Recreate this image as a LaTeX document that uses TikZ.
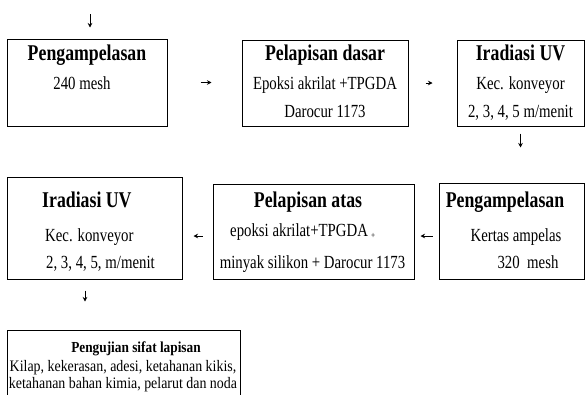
\documentclass[tikz,border=0pt]{standalone}
\usepackage{fontspec}
\setmainfont{Liberation Serif}
\newfontfamily\bodyf{Liberation Serif}[FakeStretch=0.80]
\newfontfamily\titlef{Liberation Serif}[FakeStretch=0.79]
\newfontfamily\smallf{Liberation Serif}[FakeStretch=0.87]
\usetikzlibrary{arrows.meta,calc}
\tikzset{
  box/.style={draw, line width=1pt, rectangle, inner sep=0pt},
  ttl/.style={font=\titlef\bfseries\fontsize{22.5}{24}\selectfont, inner sep=0pt, anchor=base},
  bdy/.style={font=\bodyf\fontsize{18.5}{20}\selectfont, inner sep=0pt, anchor=base},
  sttl/.style={font=\smallf\bfseries\fontsize{15.3}{17}\selectfont, inner sep=0pt, anchor=base},
  sbdy/.style={font=\smallf\fontsize{16}{17}\selectfont, inner sep=0pt, anchor=base},
  arr/.style={line width=0.9pt, -{Stealth[length=4.5pt,width=4.5pt]}}
}
\begin{document}
\begin{tikzpicture}[x=1pt,y=-1pt]
\path[use as bounding box] (0,0) rectangle (588,394);
\clip (0,0) rectangle (588,394);
% boxes
\node[box, minimum width=160pt, minimum height=87pt] (b1) at (87,82.5) {};
\node[box, minimum width=166pt, minimum height=86pt] (b2) at (325,83) {};
\node[box, minimum width=127pt, minimum height=86pt] (b3) at (520.5,83) {};
\node[box, minimum width=175pt, minimum height=102pt] (b4) at (94.5,228) {};
\node[box, minimum width=201pt, minimum height=95pt] (b5) at (313.5,231.5) {};
\node[box, minimum width=145pt, minimum height=96pt] (b6) at (511.5,231) {};
\node[box, minimum width=233pt, minimum height=70pt] (b7) at (123.5,365) {};
% texts
\node[ttl] (t1a) at (87,60) {Pengampelasan};
\node[bdy] (t1b) at (82,89) {240 mesh};
\node[ttl] (t2a) at (325,60) {Pelapisan dasar};
\node[bdy] (t2b) at (325,89) {Epoksi akrilat +TPGDA};
\node[bdy] (t2c) at (325,117) {Darocur 1173};
\node[ttl] (t3a) at (520.5,60) {Iradiasi UV};
\node[bdy] (t3b) at (520.5,89) {Kec. konveyor};
\node[bdy] (t3c) at (520.5,117) {2, 3, 4, 5 m/menit};
\node[ttl, anchor=base west] (t4a) at (42,207) {Iradiasi UV};
\node[bdy, anchor=base west] (t4b) at (45,241) {Kec. konveyor};
\node[bdy, anchor=base west] (t4c) at (46,268) {2, 3, 4, 5, m/menit};
\node[ttl] (t5a) at (308,207) {Pelapisan atas};
\node[bdy, anchor=base west] (t5b) at (230,236) {epoksi akrilat+TPGDA\,{\fontsize{9}{9}\selectfont\raisebox{-2pt}{+}}};
\node[bdy] (t5c) at (312.5,268) {minyak silikon + Darocur 1173};
\node[ttl] (t6a) at (505,207) {Pengampelasan};
\node[bdy] (t6b) at (516,241) {Kertas ampelas};
\node[bdy] (t6c) at (528,268) {320\ \ mesh};
\node[sttl] (t7a) at (136,352) {Pengujian sifat lapisan};
\node[sbdy] (t7b) at (123,371) {Kilap, kekerasan, adesi, ketahanan kikis,};
\node[sbdy] (t7c) at (123,388) {ketahanan bahan kimia, pelarut dan noda};
% connectors
\coordinate (start) at (90,14);
\draw[arr, shorten >=11pt] (start) -- (start |- b1.north);
\draw[arr, shorten <=33pt, shorten >=30pt] (b1.east) -- (b1.east -| b2.west);
\draw[arr, shorten <=17pt, shorten >=24pt] (b2.east) -- (b2.east -| b3.west);
\draw[arr, shorten <=7pt, shorten >=35pt] (b3.south) -- (b3.south |- b6.north);
\coordinate (p6) at ([yshift=-5pt]b6.west);
\draw[arr, shorten <=6pt, shorten >=6pt] (p6) -- (p6 -| b5.east);
\coordinate (p5) at ([yshift=-4.5pt]b5.west);
\draw[arr, shorten <=10pt, shorten >=11pt] (p5) -- (p5 -| b4.east);
\coordinate (p4) at ([xshift=-9.5pt]b4.south);
\draw[arr, shorten <=11pt, shorten >=28pt] (p4) -- (p4 |- b7.north);
\end{tikzpicture}
\end{document}
